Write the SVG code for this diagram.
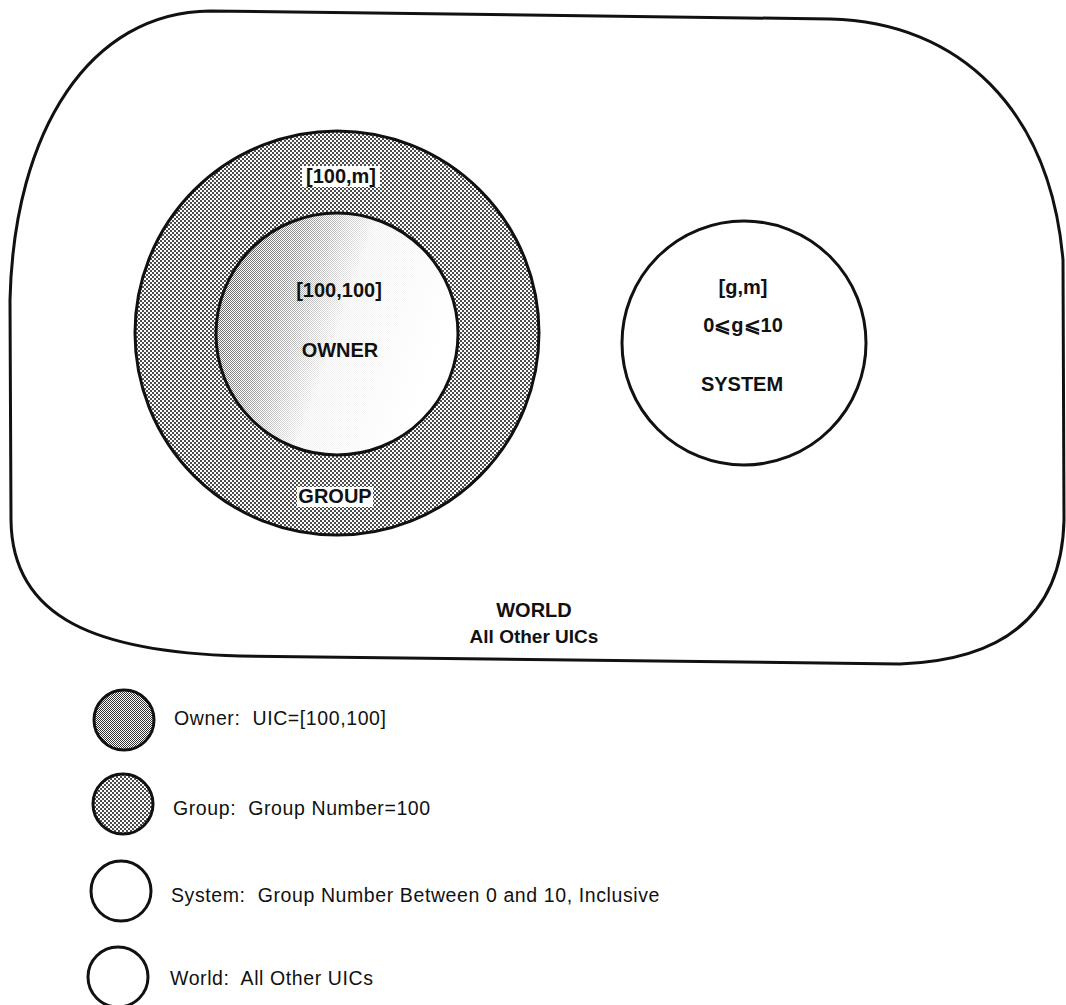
<svg xmlns="http://www.w3.org/2000/svg" width="1066" height="1005" viewBox="0 0 1066 1005">
<style>
.ln{fill:none;stroke:#111;stroke-width:3}
.lbl{font-family:"Liberation Sans",Arial,sans-serif;font-weight:bold;font-size:20px;fill:#111;text-anchor:middle}
.ko{fill:#fff}
.leg{font-family:"Liberation Sans",Arial,sans-serif;font-size:19.5px;fill:#111;letter-spacing:0.6px;white-space:pre}
</style>
<defs>
<pattern id="dots" width="4" height="4" patternUnits="userSpaceOnUse">
<rect width="4" height="4" fill="#fff"/>
<circle cx="1" cy="1" r="1.0" fill="#111"/>
<circle cx="3" cy="3" r="1.0" fill="#111"/>
</pattern>
<pattern id="fine" width="2" height="2" patternUnits="userSpaceOnUse">
<rect width="2" height="2" fill="#fff"/>
<rect width="1" height="1" fill="#333"/>
<rect x="1" y="1" width="1" height="1" fill="#333"/>
</pattern>
<linearGradient id="fade" x1="0" y1="0" x2="1" y2="0.35">
<stop offset="0" stop-color="#fff" stop-opacity="0.9"/>
<stop offset="0.35" stop-color="#fff" stop-opacity="0.5"/>
<stop offset="0.6" stop-color="#fff" stop-opacity="0.08"/>
<stop offset="1" stop-color="#fff" stop-opacity="0"/>
</linearGradient>
<mask id="ownerMask" maskContentUnits="objectBoundingBox">
<rect width="1" height="1" fill="url(#fade)"/>
</mask>
</defs>

<g id="world">
<path class="ln" d="M 210,11 L 830,19 C 960,22 1050,110 1063,260 L 1064,520 C 1062,610 1010,660 900,664 L 240,656 C 100,652 12,620 11,520 L 10,300 C 14,130 90,12 210,11 Z"/>
<text class="lbl" x="534" y="617">WORLD</text>
<text class="lbl" x="534" y="643" style="font-size:19px">All Other UICs</text>
</g>

<g id="group">
<circle cx="337" cy="333" r="202" fill="url(#dots)" stroke="#111" stroke-width="3"/>
<rect class="ko" x="302" y="166" width="78" height="21"/>
<text class="lbl" x="341" y="183">[100,m]</text>
<rect class="ko" x="297" y="487" width="76" height="20"/>
<text class="lbl" x="335" y="503">GROUP</text>
</g>

<g id="owner">
<circle cx="337" cy="334" r="121" fill="#fff"/>
<circle cx="337" cy="334" r="121" fill="url(#fine)" mask="url(#ownerMask)"/>
<circle cx="337" cy="334" r="121" class="ln"/>
<text class="lbl" x="339" y="297">[100,100]</text>
<text class="lbl" x="340" y="357">OWNER</text>
</g>

<g id="system">
<circle cx="744" cy="343" r="122" fill="#fff" stroke="#111" stroke-width="3"/>
<text class="lbl" x="743" y="294">[g,m]</text>
<text class="lbl" x="743" y="332">0⩽g⩽10</text>
<text class="lbl" x="742" y="391">SYSTEM</text>
</g>

<g id="legend">
<g id="leg-owner">
<circle cx="124" cy="720" r="30" fill="url(#fine)" stroke="#111" stroke-width="3"/>
<text class="leg" x="174" y="725">Owner:  UIC=[100,100]</text>
</g>
<g id="leg-group">
<circle cx="123" cy="804" r="30" fill="url(#dots)" stroke="#111" stroke-width="3"/>
<text class="leg" x="173" y="815">Group:  Group Number=100</text>
</g>
<g id="leg-system">
<circle cx="121" cy="891" r="30" fill="#fff" stroke="#111" stroke-width="3"/>
<text class="leg" x="171" y="902">System:  Group Number Between 0 and 10, Inclusive</text>
</g>
<g id="leg-world">
<circle cx="118" cy="977" r="30" fill="#fff" stroke="#111" stroke-width="3"/>
<text class="leg" x="170" y="985">World:  All Other UICs</text>
</g>
</g>
</svg>
